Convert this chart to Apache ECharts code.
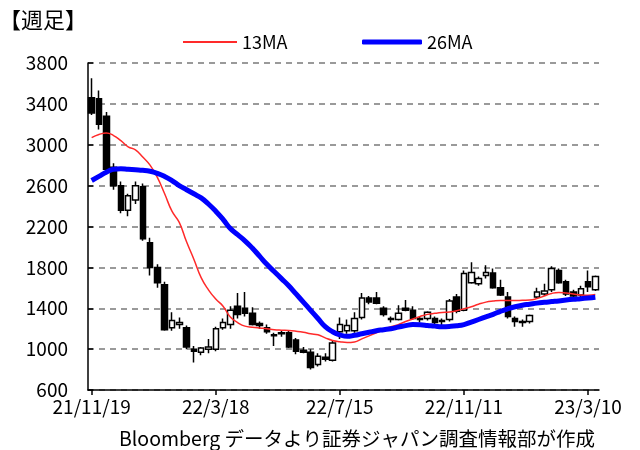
<!DOCTYPE html>
<html><head><meta charset="utf-8">
<script src="https://cdn.jsdelivr.net/npm/echarts@6/dist/echarts.min.js"></script>
<style>html,body{margin:0;padding:0;background:#fff}#c{width:640px;height:450px}</style>
</head><body><div id="c"></div>
<script>
const dates = ['21/11/19','21/11/26','21/12/3','21/12/10','21/12/17','21/12/24','21/12/31','22/1/7','22/1/14','22/1/21','22/1/28','22/2/4','22/2/11','22/2/18','22/2/25','22/3/4','22/3/11','22/3/18','22/3/25','22/4/1','22/4/8','22/4/15','22/4/22','22/4/29','22/5/6','22/5/13','22/5/20','22/5/27','22/6/3','22/6/10','22/6/17','22/6/24','22/7/1','22/7/8','22/7/15','22/7/22','22/7/29','22/8/5','22/8/12','22/8/19','22/8/26','22/9/2','22/9/9','22/9/16','22/9/23','22/9/30','22/10/7','22/10/14','22/10/21','22/10/28','22/11/4','22/11/11','22/11/18','22/11/25','22/12/2','22/12/9','22/12/16','22/12/23','22/12/30','23/1/6','23/1/13','23/1/20','23/1/27','23/2/3','23/2/10','23/2/17','23/2/24','23/3/3','23/3/10','23/3/17'];
const openV = [3460,3450,3280,2780,2600,2360,2460,2590,2040,1800,1630,1210,1240,1210,1000,970,1000,1000,1210,1240,1420,1400,1350,1250,1210,1140,1150,1160,1090,990,970,850,920,890,1170,1180,1180,1310,1500,1500,1400,1290,1290,1400,1380,1290,1300,1300,1270,1290,1510,1380,1650,1640,1720,1745,1600,1510,1300,1260,1270,1510,1540,1580,1770,1660,1560,1530,1660,1580];
const closeV = [3310,3200,2760,2600,2360,2500,2600,2080,1800,1650,1190,1280,1260,1020,980,1010,1020,1200,1260,1380,1340,1350,1240,1230,1170,1130,1160,1020,980,970,820,930,900,1060,1240,1230,1300,1500,1460,1450,1340,1300,1350,1380,1300,1300,1360,1260,1280,1470,1370,1740,1750,1690,1750,1600,1530,1320,1270,1270,1330,1560,1570,1790,1650,1540,1520,1590,1610,1710];
const lowV = [3290,3150,2720,2560,2330,2300,2420,2060,1720,1600,1180,1180,1200,1000,870,940,960,980,1190,1200,1300,1320,1230,1200,1150,1030,1120,1010,950,960,800,830,880,880,1100,1150,1160,1290,1440,1440,1320,1260,1280,1370,1290,1260,1280,1240,1230,1270,1350,1370,1640,1620,1690,1590,1520,1300,1220,1220,1250,1490,1520,1560,1640,1520,1500,1500,1560,1570];
const highV = [3650,3530,3320,2820,2640,2520,2640,2620,2090,1830,1660,1360,1310,1230,1030,1020,1100,1220,1300,1420,1550,1560,1410,1270,1240,1160,1180,1180,1110,1020,1000,960,960,1080,1310,1290,1360,1550,1520,1560,1420,1320,1430,1480,1420,1320,1370,1320,1300,1490,1540,1770,1850,1710,1820,1790,1680,1560,1320,1290,1340,1600,1640,1810,1790,1680,1580,1620,1770,1720];
const ma13 = [3070,3100,3115,3090,3040,2980,2950,2880,2800,2680,2520,2350,2240,2050,1880,1700,1580,1490,1420,1314,1260,1225,1215,1207,1200,1190,1185,1182,1175,1165,1150,1140,1110,1085,1072,1065,1070,1100,1130,1160,1190,1220,1240,1270,1295,1320,1340,1350,1358,1363,1375,1395,1415,1440,1460,1470,1475,1475,1475,1478,1480,1495,1520,1545,1555,1550,1540,1530,1528,1535];
const ma26 = [2650,2690,2730,2760,2765,2760,2755,2750,2740,2720,2690,2650,2600,2560,2520,2480,2420,2350,2270,2180,2120,2060,1990,1910,1830,1760,1690,1620,1540,1460,1380,1300,1220,1170,1140,1125,1135,1150,1165,1180,1190,1200,1215,1230,1240,1238,1232,1225,1220,1222,1228,1240,1265,1290,1315,1340,1370,1395,1415,1430,1440,1450,1458,1465,1472,1480,1487,1493,1500,1508];
const seriesNames = ['13MA','26MA'];
const ohlc = openV.map((o,i)=>[o,closeV[i],lowV[i],highV[i]]);
const FF = "'Noto Sans CJK JP', sans-serif";
const chart = echarts.init(document.getElementById('c'), null, {renderer:'canvas'});
chart.setOption({
  animation:false,
  backgroundColor:'#fff',
  textStyle:{fontFamily:FF, color:'#000'},
  title:[
    {text:'【週足】', left:-6, top:4, textStyle:{fontSize:22, fontWeight:'normal', color:'#000', fontFamily:FF}},
    {text:'Bloomberg データより証券ジャパン調査情報部が作成', left:114, top:424, textStyle:{fontSize:19.5, fontWeight:'normal', color:'#000', fontFamily:FF}}
  ],
  legend:[
    {data:[seriesNames[0]], left:178, top:28, icon:'rect', itemWidth:54, itemHeight:2, itemGap:3, textStyle:{fontSize:18, color:'#000', fontFamily:FF}},
    {data:[seriesNames[1]], left:357, top:28, icon:'roundRect', itemWidth:60, itemHeight:5, itemGap:3, textStyle:{fontSize:18, color:'#000', fontFamily:FF}}
  ],
  grid:{left:88, right:41, top:63, bottom:60, containLabel:false},
  xAxis:{
    type:'category', data:dates, boundaryGap:true,
    axisLine:{lineStyle:{color:'#000', width:1.5}},
    axisTick:{show:true, alignWithLabel:true, interval:16, length:5, lineStyle:{color:'#000', width:1.5}},
    axisLabel:{interval:16, fontSize:19, color:'#000', margin:7, fontFamily:FF},
    splitLine:{show:false}
  },
  yAxis:{
    type:'value', min:600, max:3800, interval:400, scale:true,
    axisLine:{show:true, lineStyle:{color:'#000', width:1.5}},
    axisTick:{show:true, inside:true, length:5, lineStyle:{color:'#000', width:1.5}},
    axisLabel:{fontSize:19, color:'#000', margin:20, fontFamily:FF, formatter:v=>String(v)},
    splitLine:{show:true, lineStyle:{color:'#7a7a7a', width:1.5, type:[6,5]}}
  },
  series:[
    {type:'candlestick', name:'price', data:ohlc, barWidth:6, z:2,
     itemStyle:{color:'#fff', color0:'#000', borderColor:'#000', borderColor0:'#000', borderWidth:1.5}},
    {type:'line', name:seriesNames[0], data:ma13, smooth:true, symbol:'none', z:3,
     itemStyle:{color:'#ff2a2a'}, lineStyle:{color:'#ff2a2a', width:1.5}},
    {type:'line', name:seriesNames[1], data:ma26, smooth:true, symbol:'none', z:4,
     itemStyle:{color:'#0000ff'}, lineStyle:{color:'#0000ff', width:5}}
  ]
});
</script></body></html>
